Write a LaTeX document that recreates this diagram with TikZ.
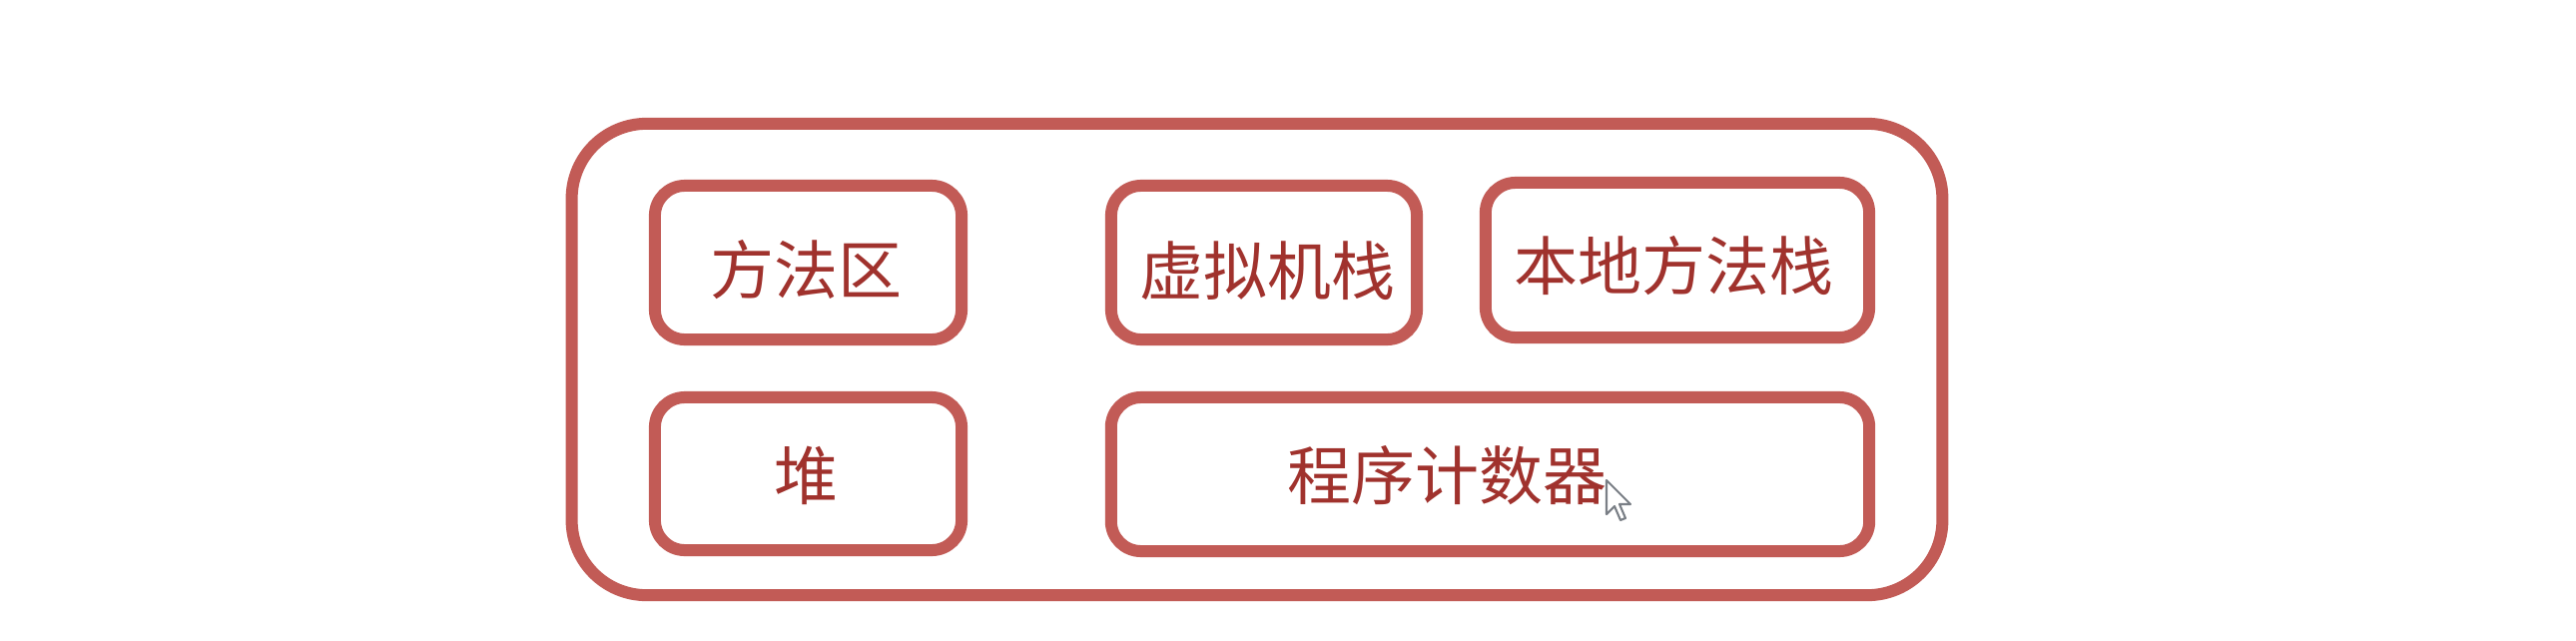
\documentclass[tikz,border=0pt]{standalone}
\usepackage{fontspec}
\newfontfamily\cjk{Noto Sans CJK SC}
\definecolor{boxred}{HTML}{C25B56}
\definecolor{txtred}{HTML}{A0322D}
\definecolor{cursorgray}{HTML}{7A7F86}
\begin{document}
\begin{tikzpicture}[x=0.01cm,y=-0.01cm,
  box/.style={draw=boxred, line width=0.12cm, rounded corners=0.3cm, inner sep=0pt, outer sep=0pt},
  outerbox/.style={box, rounded corners=0.75cm},
  txt/.style={text=txtred, font=\cjk\fontsize{18.2pt}{20pt}\selectfont, inner sep=0pt}]
\useasboundingbox[fill=white] (0,0) rectangle (2580,642);
% outer frame
\node[outerbox, minimum width=13.72cm, minimum height=4.72cm] (outer) at (1259,360) {};
% boxes
\node[box, minimum width=3.07cm, minimum height=1.54cm] (ma) at (809.5,263) {};
\node[box, minimum width=3.06cm, minimum height=1.54cm] (vm) at (1266,263) {};
\node[box, minimum width=3.84cm, minimum height=1.55cm] (nm) at (1680,260.5) {};
\node[box, minimum width=3.07cm, minimum height=1.53cm] (hp) at (809.5,474.5) {};
\node[box, minimum width=7.59cm, minimum height=1.54cm] (pc) at (1492.5,475) {};
% labels
\node[txt] (tma) at (807,270) {方法区};
\node[txt] (tvm) at (1269,271) {虚拟机栈};
\node[txt] (tnm) at (1676,266) {本地方法栈};
\node[txt] (thp) at (807,476) {堆};
\node[txt] (tpc) at (1449,476) {程序计数器};
% mouse cursor
\coordinate (cur) at (1609,481);
\draw[cursorgray, fill=white, line width=0.6pt, line join=round, shift={(cur)}]
  (0,0) -- (0,34) -- (8,26) -- (14,40) -- (19,38) -- (13,24) -- (24,24) -- cycle;
\end{tikzpicture}
\end{document}
